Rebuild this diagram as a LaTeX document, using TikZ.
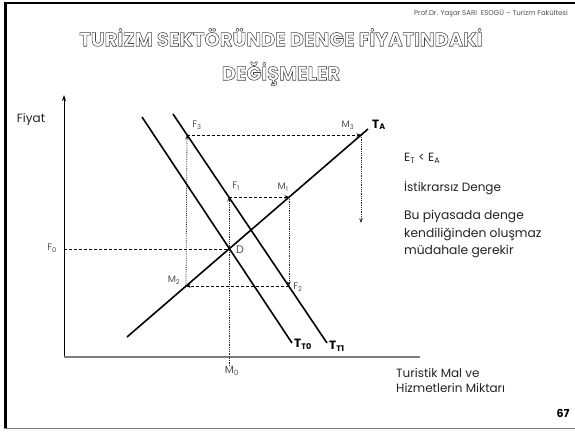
\documentclass[tikz,border=0pt]{standalone}
\usepackage{fontspec}
\setmainfont{Poppins}
\usetikzlibrary{arrows.meta}
\definecolor{labelgray}{RGB}{80,80,80}
\definecolor{textgray}{RGB}{35,35,35}
\definecolor{axisgray}{RGB}{125,125,125}
\definecolor{titlegray}{RGB}{70,70,70}
% hollow (stroked) letters for the slide title
\newcommand{\hollow}[1]{\special{pdf:literal direct 1 Tr 0.55 w}#1\special{pdf:literal direct 0 Tr}}

\begin{document}
\begin{tikzpicture}[x=1pt, y=-1pt, font=\fontsize{12}{14}\selectfont,
  curve/.style={line width=1.6pt, black},
  guideh/.style={densely dashed, line width=0.6pt},
  guidev/.style={densely dotted, line width=0.8pt, black!85},
  tip/.style={-{Stealth[length=4.5pt, width=3.5pt]}},
  ptlabel/.style={labelgray, inner sep=0pt, font=\fontsize{9.5}{11}\selectfont},
  curvelabel/.style={inner sep=0pt, font=\bfseries\fontsize{12}{14}\selectfont}]

  \useasboundingbox (0,0) rectangle (575,431);

  % Slide frame
  \fill[black] (4,3) rectangle (7,429);
  \draw[line width=2pt] (4,3) -- (575,3);
  \draw[axisgray, line width=1pt] (4,428.5) -- (575,428.5);

  % Header and title
  \node[anchor=east, labelgray, inner sep=0pt, font=\fontsize{7}{8}\selectfont] (header) at (568,13)
    {Prof.Dr. Yaşar SARI\ \ ESOGÜ -- Turizm Fakültesi};
  \node[titlegray, align=center, inner sep=0pt, font=\bfseries\fontsize{19.5}{34}\selectfont] (title) at (281,57)
    {\hollow{TURİZM SEKTÖRÜNDE DENGE FİYATINDAKİ}\\\hollow{DEĞİŞMELER}};

  % Axes
  \coordinate (O) at (64,357);
  \coordinate (ytop) at (64,95);
  \coordinate (xend) at (420,357);
  \draw[line width=0.9pt, -{Stealth[length=6pt, width=4pt]}] (O) -- (ytop);
  \draw[axisgray, line width=1.6pt] (O) -- (xend);
  \node[textgray, inner sep=0pt] (fiyat) at (31,119) {Fiyat};
  \node[textgray, anchor=north west, align=left, inner sep=0pt, font=\fontsize{12}{15.5}\selectfont] (miktar) at (396,368)
    {Turistik Mal ve\\Hizmetlerin Miktarı};

  % Points
  \coordinate (TAs) at (127,337);
  \coordinate (TAe) at (368,129);
  \coordinate (T1s) at (173,114);
  \coordinate (T1e) at (327,343);
  \coordinate (T0s) at (142,117);
  \coordinate (T0e) at (292,343);
  \coordinate (D) at (229,249);
  \coordinate (F0) at (64,249);
  \coordinate (M0) at (229,366);
  \coordinate (F1) at (229,197);
  \coordinate (M1) at (289,197);
  \coordinate (F2) at (289,286);
  \coordinate (M2) at (186,286);
  \coordinate (F3) at (187,135);
  \coordinate (M3) at (361,135);
  \coordinate (M3d) at (361,223);

  % Guide lines
  \draw[guideh] (F0) -- (D);
  \draw[guidev, tip] (M0) -- (F1);
  \draw[guideh, tip] (F1) -- (M1);
  \draw[guidev, tip] (M1) -- (F2);
  \draw[guideh, tip] (F2) -- (M2);
  \draw[guidev, tip] (M2) -- (F3);
  \draw[guideh, tip] (F3) -- (M3);
  \draw[guidev, tip] (M3) -- (M3d);

  % Curves
  \draw[curve] (TAs) -- (TAe);
  \draw[curve] (T0s) -- (T0e);
  \draw[curve] (T1s) -- (T1e);
  \node[curvelabel, anchor=south west] (lTA) at (372,130) {T\textsubscript{A}};
  \node[curvelabel, anchor=west] (lT0) at (294,344) {T\textsubscript{T0}};
  \node[curvelabel, anchor=west] (lT1) at (329,346) {T\textsubscript{T1}};

  % Point labels
  \node[ptlabel] (lF0) at (52,248) {F\textsubscript{0}};
  \node[ptlabel] (lD) at (240,250) {\fontsize{11}{12}\selectfont D};
  \node[ptlabel] (lF1) at (236,186) {F\textsubscript{1}};
  \node[ptlabel] (lM1) at (283,187) {M\textsubscript{1}};
  \node[ptlabel] (lF2) at (298,287) {F\textsubscript{2}};
  \node[ptlabel] (lM2) at (174,280) {M\textsubscript{2}};
  \node[ptlabel] (lF3) at (197,125) {F\textsubscript{3}};
  \node[ptlabel] (lM3) at (348,125) {M\textsubscript{3}};
  \node[ptlabel] (lM0) at (232,371) {\fontsize{10.5}{12}\selectfont M\textsubscript{0}};

  % Notes on the right
  \node[textgray, anchor=west, inner sep=0pt] (ineq) at (404,158) {E\textsubscript{T} < E\textsubscript{A}};
  \node[textgray, anchor=west, inner sep=0pt] (istikrar) at (404,188) {İstikrarsız Denge};
  \node[textgray, anchor=north west, align=left, inner sep=0pt, font=\fontsize{12.3}{17.5}\selectfont] (note) at (404,210)
    {Bu piyasada denge\\kendiliğinden oluşmaz\\müdahale gerekir};

  \node[inner sep=0pt, font=\bfseries\fontsize{11}{12}\selectfont] (page) at (563,413) {67};
\end{tikzpicture}
\end{document}
